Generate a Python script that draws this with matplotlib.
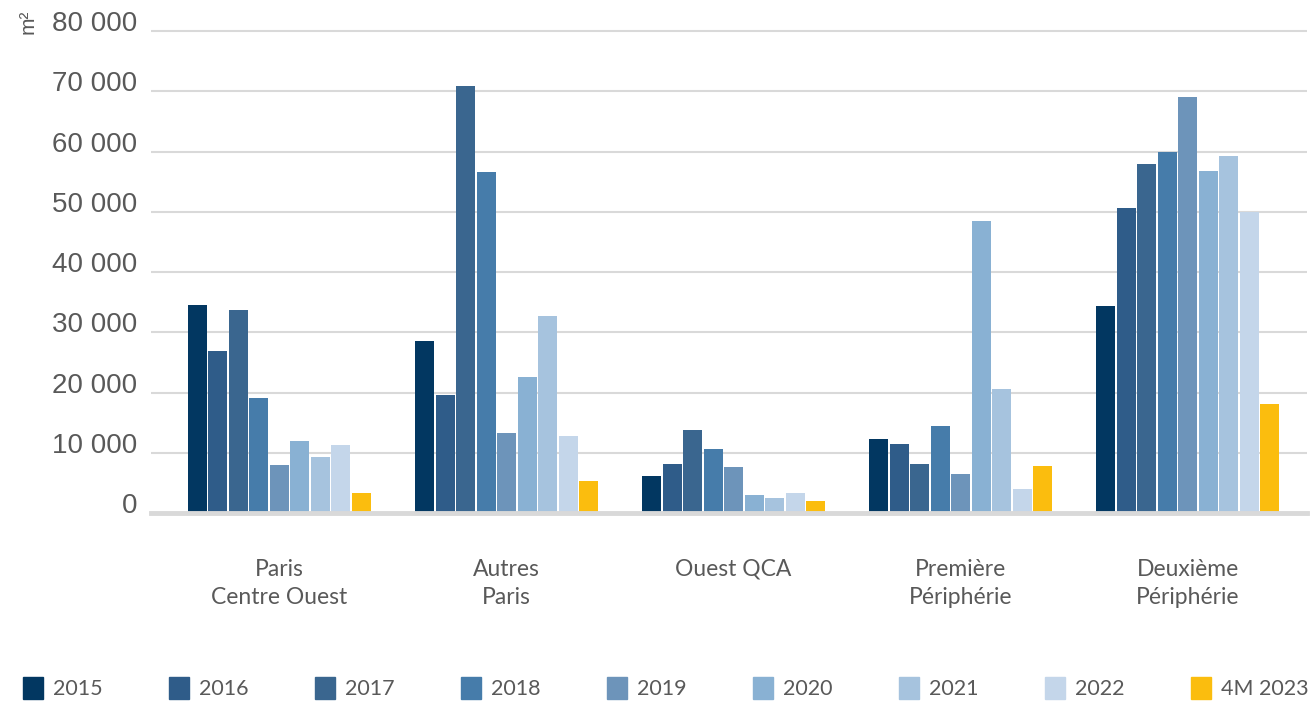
import numpy as np
import matplotlib
matplotlib.use("Agg")
import matplotlib.pyplot as plt
from matplotlib.patches import Rectangle
from matplotlib.ticker import FuncFormatter

# data [m2]
categories = ["Paris\nCentre Ouest", "Autres\nParis", "Ouest QCA", "Première\nPériphérie", "Deuxième\nPériphérie"]
years = ["2015", "2016", "2017", "2018", "2019", "2020", "2021", "2022", "4M 2023"]

v2015 = [34500, 28500, 6100, 12300, 34300]
v2016 = [26900, 19600, 8100, 11400, 50700]
v2017 = [33700, 70800, 13800, 8100, 57900]
v2018 = [19100, 56600, 10600, 14400, 60000]
v2019 = [8000, 13300, 7600, 6500, 69000]
v2020 = [11900, 22600, 3000, 48400, 56700]
v2021 = [9300, 32700, 2500, 20600, 59200]
v2022 = [11300, 12800, 3300, 4000, 49900]
v4m2023 = [3300, 5300, 2000, 7800, 18100]

series = [v2015, v2016, v2017, v2018, v2019, v2020, v2021, v2022, v4m2023]
colors = ["#023761", "#2F5C89", "#3A668F", "#467CAA", "#6D94BA",
          "#89B1D3", "#A6C3DE", "#C4D6EA", "#FBBD0E"]

TEXT = "#595959"
GRID = "#D9D9D9"

W, H = 1312, 705
fig = plt.figure(figsize=(W / 100, H / 100), dpi=100)
ax = fig.add_axes([151 / W, 1 - 513 / H, (1307 - 151) / W, (513 - 25) / H])

x = np.arange(len(categories))
slot = 0.0903
width = 0.0837
for i, (vals, col) in enumerate(zip(series, colors)):
    ax.bar(x + (i - 4) * slot, vals, width=width, color=col, zorder=3)

ax.set_xlim(-0.566, 4.526)
ax.set_ylim(0, 81000)
ax.set_yticks(np.arange(0, 80001, 10000))
ax.yaxis.set_major_formatter(FuncFormatter(lambda v, p: f"{int(v):,}".replace(",", " ")))
ax.grid(axis="y", color=GRID, linewidth=1.5, zorder=0)
ax.axhline(0, color=GRID, linewidth=3.5, zorder=4, clip_on=False)
for s in ax.spines.values():
    s.set_visible(False)

ax.tick_params(axis="y", length=0, pad=10, labelsize=20, labelcolor=TEXT)
for lab in ax.get_yticklabels():
    lab.set_fontfamily("Liberation Sans")
    lab.set_verticalalignment("baseline")

ax.set_xticks(x)
ax.set_xticklabels(categories, fontfamily="Lato", fontsize=16.5, color=TEXT, linespacing=1.45)
ax.tick_params(axis="x", length=0, pad=33)

fig.text(28 / W, 1 - 22 / H, "m²", rotation=90, ha="center", va="center",
         fontsize=15, color=TEXT, family="Liberation Sans")

# legend drawn by hand, evenly spaced in one row
for i, (lab, col) in enumerate(zip(years, colors)):
    x0 = 23 + 146 * i
    fig.patches.append(Rectangle((x0 / W, 1 - 699 / H), 20 / W, 22 / H,
                                 transform=fig.transFigure, color=col, figure=fig))
    fig.text((x0 + 30) / W, 1 - 689 / H, lab, ha="left", va="center",
             fontsize=15.5, color=TEXT, family="Lato")

plt.savefig("out.png", dpi=100)
